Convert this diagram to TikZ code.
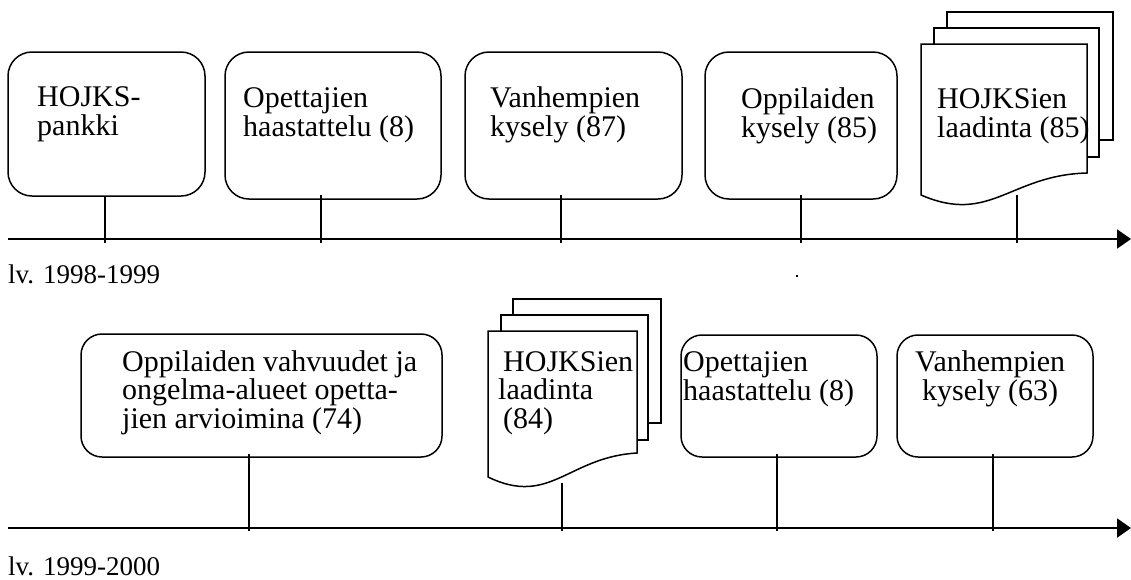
\documentclass[tikz,border=0pt]{standalone}
\usepackage{fontspec}
\setmainfont{Liberation Serif}
\usetikzlibrary{arrows.meta}
\begin{document}
\begin{tikzpicture}[x=1pt,y=-1pt,
  box/.style={draw, line width=1.5pt, anchor=north west, inner sep=0pt, outer sep=0pt},
  bigbox/.style={box, rounded corners=24pt},
  smallbox/.style={box, rounded corners=21pt},
  % multi-line labels are placed by the baseline of their last line
  lbl/.style={font=\fontsize{30}{28.5}\selectfont, align=left, anchor=base west, inner sep=0pt},
  yearlbl/.style={font=\fontsize{27}{30}\selectfont, anchor=base west, inner sep=0pt},
  stem/.style={line width=1.5pt},
  axis/.style={line width=2pt, -{Triangle[length=14pt,width=19pt]}},
  sheet/.style={draw, fill=white, line width=1.5pt, line join=miter}]
\useasboundingbox (0,0) rectangle (1131,579);

% ---- first school year ----
\node[bigbox, minimum width=197pt, minimum height=144pt] (b1) at (8,52) {};
\node[bigbox, minimum width=216pt, minimum height=147pt] (b2) at (225,52) {};
\node[bigbox, minimum width=217pt, minimum height=147pt] (b3) at (465,52) {};
\node[bigbox, minimum width=192pt, minimum height=147pt] (b4) at (705,52) {};

% stacked documents
\draw[sheet] (947,12) rectangle (1113,140);
\draw[sheet] (934,28) rectangle (1099,157);
\draw[sheet] (921,44) -- (1087,44) -- (1087,173)
  .. controls (1010,175) and (990,225) .. (921,195) -- cycle;
\coordinate (d1) at (1017,195);

\node[lbl] (t1) at (37,135) {HOJKS-\\pankki};
\node[lbl] (t2) at (243,136) {Opettajien\\haastattelu (8)};
\node[lbl] (t3) at (490,136) {Vanhempien\\kysely (87)};
\node[lbl] (t4) at (741,137) {Oppilaiden\\kysely (85)};
\node[lbl] (t5) at (937,137) {HOJKSien\\laadinta (85)};

\coordinate (s1) at (8,239);
\coordinate (e1) at (1131,239);
\draw[axis] (s1) -- (e1);
\coordinate (p1) at (105,239);
\coordinate (p2) at (321,239);
\coordinate (p3) at (561,239);
\coordinate (p4) at (801,239);
\coordinate (p5) at (1017,239);
\draw[stem] (b1.south -| p1) -- ([yshift=-4pt]p1);
\draw[stem] ([yshift=4pt]b2.south -| p2) -- ([yshift=-4pt]p2);
\draw[stem] ([yshift=4pt]b3.south -| p3) -- ([yshift=-4pt]p3);
\draw[stem] ([yshift=4pt]b4.south -| p4) -- ([yshift=-4pt]p4);
\draw[stem] (d1) -- ([yshift=-4pt]p5);

\node[yearlbl] (y1) at (8,283) {lv. 1998-1999};
\fill (796,275) rectangle (798,277);

% ---- second school year ----
\node[smallbox, minimum width=361pt, minimum height=123pt] (bA) at (81,334) {};
\node[smallbox, minimum width=196pt, minimum height=122pt] (bC) at (681,335) {};
\node[smallbox, minimum width=196pt, minimum height=122pt] (bD) at (897,335) {};

\draw[sheet] (513,299) rectangle (661,423);
\draw[sheet] (501,315) rectangle (648,440);
\draw[sheet] (488,331) -- (637,331) -- (637,453)
  .. controls (568,457) and (550,507) .. (488,477) -- cycle;
\coordinate (d2) at (562,483);

\node[lbl] (tA) at (122,428) {Oppilaiden vahvuudet ja\\ongelma-alueet opetta-\\jien arvioimina (74)};
\node[lbl] (tB) at (498,428) {\hspace*{5pt}HOJKSien\\laadinta\\\hspace*{5pt}(84)};
\node[lbl] (tC) at (683,400) {Opettajien\\haastattelu (8)};
\node[lbl] (tD) at (915,400) {Vanhempien\\\hspace*{7pt}kysely (63)};

\coordinate (s2) at (8,528);
\coordinate (e2) at (1131,528);
\draw[axis] (s2) -- (e2);
\coordinate (q1) at (249,528);
\coordinate (q2) at (562,528);
\coordinate (q3) at (777,528);
\coordinate (q4) at (993,528);
\draw[stem] ([yshift=3pt]bA.south -| q1) -- ([yshift=-3pt]q1);
\draw[stem] (d2) -- ([yshift=-3pt]q2);
\draw[stem] ([yshift=3pt]bC.south -| q3) -- ([yshift=-3pt]q3);
\draw[stem] ([yshift=3pt]bD.south -| q4) -- ([yshift=-3pt]q4);

\node[yearlbl] (y2) at (8,575) {lv. 1999-2000};
\end{tikzpicture}
\end{document}
